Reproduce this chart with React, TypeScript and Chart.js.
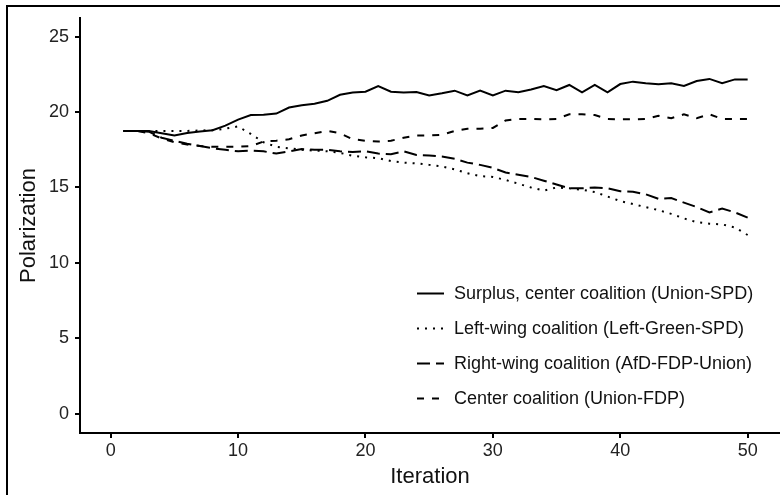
import React, { useEffect, useRef } from 'react';
import { Chart, registerables } from 'chart.js';

Chart.register(...registerables);

const iterations = [
  1, 2, 3, 4, 5, 6, 7, 8, 9, 10, 11, 12, 13, 14, 15, 16, 17, 18, 19, 20, 21, 22, 23, 24, 25,
  26, 27, 28, 29, 30, 31, 32, 33, 34, 35, 36, 37, 38, 39, 40, 41, 42, 43, 44, 45, 46, 47, 48, 49, 50,
];

const surplus = [
  18.75, 18.75, 18.75, 18.6, 18.45, 18.62, 18.72, 18.8, 19.1, 19.5,
  19.8, 19.82, 19.9, 20.3, 20.45, 20.55, 20.75, 21.15, 21.3, 21.35,
  21.73, 21.35, 21.3, 21.33, 21.1, 21.25, 21.42, 21.1, 21.42, 21.1,
  21.42, 21.31, 21.5, 21.73, 21.46, 21.8, 21.31, 21.8, 21.31, 21.86,
  22.02, 21.91, 21.84, 21.91, 21.73, 22.06, 22.2, 21.91, 22.17, 22.17,
];

const leftWing = [
  18.75, 18.75, 18.75, 18.75, 18.75, 18.75, 18.78, 18.8, 18.9, 19.05,
  18.55, 18.0, 17.7, 17.6, 17.5, 17.45, 17.4, 17.3, 17.1, 17.0,
  16.95, 16.75, 16.65, 16.6, 16.5, 16.4, 16.2, 15.95, 15.75, 15.7,
  15.5, 15.25, 15.0, 14.8, 15.0, 14.95, 14.85, 14.7, 14.4, 14.1,
  13.9, 13.7, 13.5, 13.25, 12.95, 12.7, 12.6, 12.55, 12.35, 11.85,
];

const rightWing = [
  18.75, 18.75, 18.7, 18.3, 18.1, 17.9, 17.75, 17.6, 17.5, 17.4,
  17.45, 17.4, 17.25, 17.4, 17.55, 17.5, 17.5, 17.4, 17.35, 17.4,
  17.25, 17.2, 17.4, 17.15, 17.12, 17.05, 16.9, 16.65, 16.5, 16.3,
  16.0, 15.85, 15.7, 15.45, 15.2, 14.95, 14.95, 15.0, 14.95, 14.75,
  14.72, 14.55, 14.25, 14.3, 14.0, 13.7, 13.35, 13.6, 13.35, 13.0,
];

const center = [
  18.75, 18.75, 18.6, 18.25, 18.0, 17.85, 17.75, 17.7, 17.7, 17.7,
  17.75, 18.05, 18.1, 18.2, 18.45, 18.6, 18.75, 18.6, 18.2, 18.1,
  18.05, 18.1, 18.3, 18.45, 18.45, 18.5, 18.75, 18.9, 18.9, 18.95,
  19.45, 19.55, 19.55, 19.52, 19.55, 19.85, 19.85, 19.8, 19.55, 19.52,
  19.52, 19.55, 19.75, 19.6, 19.85, 19.6, 19.85, 19.55, 19.55, 19.55,
];

const seriesLabels = [
  'Surplus, center coalition (Union-SPD)',
  'Left-wing coalition (Left-Green-SPD)',
  'Right-wing coalition (AfD-FDP-Union)',
  'Center coalition (Union-FDP)',
];

const xTicks = [0, 10, 20, 30, 40, 50];
const yTicks = [0, 5, 10, 15, 20, 25];
const xTitle = 'Iteration';
const yTitle = 'Polarization';

const FONT = "'Liberation Sans', Arial, sans-serif";

const series = [surplus, leftWing, rightWing, center];
const dashes: number[][] = [[], [2, 6], [13, 6], [7, 8]];

const toPoints = (vals: number[]) => vals.map((v, i) => ({ x: iterations[i], y: v }));

const framePlugin = {
  id: 'frame',
  beforeDraw(chart: any) {
    const { ctx, width, height } = chart;
    ctx.save();
    ctx.fillStyle = '#ffffff';
    ctx.fillRect(0, 0, width, height);
    ctx.restore();
  },
  afterDraw(chart: any) {
    const { ctx, width, height } = chart;
    ctx.save();
    ctx.strokeStyle = '#000';
    ctx.lineWidth = 2;
    ctx.beginPath();
    ctx.moveTo(7, height);
    ctx.lineTo(7, 6);
    ctx.lineTo(width, 6);
    ctx.stroke();
    ctx.restore();
  },
};

const legendPlugin = {
  id: 'customLegend',
  afterDatasetsDraw(chart: any) {
    const { ctx } = chart;
    ctx.save();
    ctx.font = `18px ${FONT}`;
    ctx.textBaseline = 'middle';
    ctx.textAlign = 'left';
    seriesLabels.forEach((label, i) => {
      const y = 293.5 + i * 35;
      ctx.strokeStyle = '#000';
      ctx.lineWidth = 2;
      ctx.lineCap = 'butt';
      ctx.setLineDash(dashes[i]);
      ctx.beginPath();
      ctx.moveTo(417, y);
      ctx.lineTo(444, y);
      ctx.stroke();
      ctx.setLineDash([]);
      ctx.fillStyle = '#111';
      ctx.fillText(label, 454, y + 1);
    });
    ctx.restore();
  },
};

export default function App() {
  const ref = useRef<HTMLCanvasElement | null>(null);

  useEffect(() => {
    if (!ref.current) return;
    const chart = new Chart(ref.current, {
      type: 'line',
      data: {
        datasets: series.map((vals, i) => ({
          label: seriesLabels[i],
          data: toPoints(vals),
          borderColor: '#000',
          borderWidth: 2,
          borderDash: dashes[i],
          pointRadius: 0,
          tension: 0,
          fill: false,
        })),
      },
      options: {
        responsive: false,
        animation: false,
        devicePixelRatio: 1,
        layout: { padding: { top: 18, right: 0, left: 0, bottom: 0 } },
        plugins: {
          legend: { display: false },
          tooltip: { enabled: false },
        },
        scales: {
          x: {
            type: 'linear',
            min: -2.41,
            max: 52.54,
            afterBuildTicks: (scale: any) => {
              scale.ticks = xTicks.map((v) => ({ value: v }));
            },
            afterFit: (scale: any) => {
              scale.height = 62;
            },
            border: { display: true, color: '#000', width: 2 },
            grid: {
              display: true,
              drawOnChartArea: false,
              drawTicks: true,
              tickLength: 5,
              color: '#000',
              lineWidth: 2,
            },
            ticks: {
              color: '#222',
              padding: 2,
              font: { family: FONT, size: 18 },
              maxRotation: 0,
              autoSkip: false,
            },
            title: {
              display: true,
              text: xTitle,
              color: '#111',
              font: { family: FONT, size: 22 },
              padding: { top: 0, bottom: 5 },
            },
          },
          y: {
            type: 'linear',
            min: -1.28,
            max: 26.24,
            afterBuildTicks: (scale: any) => {
              scale.ticks = yTicks.map((v) => ({ value: v }));
            },
            afterFit: (scale: any) => {
              scale.width = 80;
            },
            border: { display: true, color: '#000', width: 2 },
            grid: {
              display: true,
              drawOnChartArea: false,
              drawTicks: true,
              tickLength: 5,
              color: '#000',
              lineWidth: 2,
            },
            ticks: {
              color: '#222',
              padding: 6,
              font: { family: FONT, size: 18 },
              autoSkip: false,
            },
            title: {
              display: true,
              text: yTitle,
              color: '#111',
              font: { family: FONT, size: 22 },
              padding: { top: 16, bottom: 0 },
            },
          },
        },
      },
      plugins: [framePlugin, legendPlugin],
    });
    return () => chart.destroy();
  }, []);

  return (
    <div style={{ position: 'absolute', left: 0, top: 0, width: 780, height: 495, background: '#fff' }}>
      <canvas ref={ref} width={780} height={495} style={{ display: 'block' }} />
    </div>
  );
}
